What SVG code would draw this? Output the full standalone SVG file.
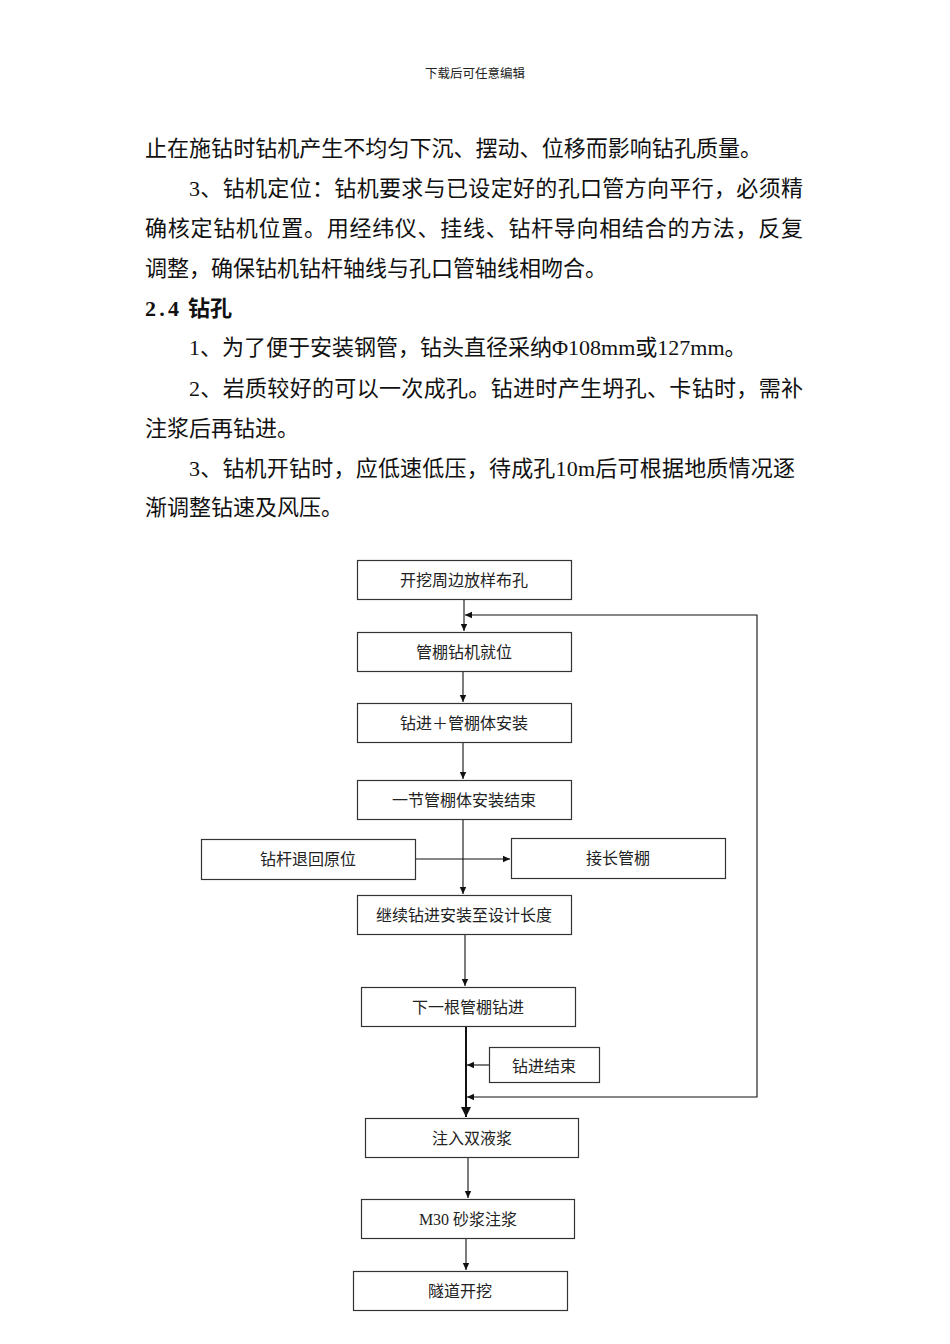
<svg xmlns="http://www.w3.org/2000/svg" width="950" height="1344" viewBox="0 0 950 1344">
<style>
.body{font-family:"Liberation Serif","Noto Sans CJK SC",serif;font-size:22px;fill:#111}
.hd{font-family:"Liberation Serif","Noto Sans CJK SC",serif;font-size:12.5px;fill:#222}
.h2{font-family:"Liberation Serif","Noto Sans CJK SC",serif;font-size:22px;font-weight:bold;fill:#111}
.box{fill:#fff;stroke:#333;stroke-width:1.2}
.lbl{font-family:"Liberation Serif","Noto Sans CJK SC",serif;font-size:16px;fill:#222;text-anchor:middle;dominant-baseline:central}
.ln{fill:none;stroke:#111;stroke-width:1.1}
</style>
<defs>
<marker id="ar" markerWidth="8" markerHeight="8" refX="7" refY="4" orient="auto-start-reverse" markerUnits="userSpaceOnUse"><path d="M0,0.8 L7,4 L0,7.2 z" fill="#111"/></marker>
<marker id="arb" markerWidth="12" markerHeight="12" refX="10" refY="6" orient="auto" markerUnits="userSpaceOnUse"><path d="M0,1 L10,6 L0,11 z" fill="#111"/></marker>
</defs>
<rect width="950" height="1344" fill="#fff"/>
<text class="hd" x="475" y="78" text-anchor="middle">下载后可任意编辑</text>
<text class="body" x="145" y="156" textLength="617" lengthAdjust="spacing">止在施钻时钻机产生不均匀下沉、摆动、位移而影响钻孔质量。</text>
<text class="body" x="189" y="196" textLength="614" lengthAdjust="spacing">3、钻机定位：钻机要求与已设定好的孔口管方向平行，必须精</text>
<text class="body" x="145" y="236" textLength="658" lengthAdjust="spacing">确核定钻机位置。用经纬仪、挂线、钻杆导向相结合的方法，反复</text>
<text class="body" x="145" y="276">调整，确保钻机钻杆轴线与孔口管轴线相吻合。</text>
<text class="h2" x="145" y="316"><tspan textLength="34" lengthAdjust="spacing">2.4</tspan><tspan x="188">钻孔</tspan></text>
<text class="body" x="189" y="355">1、为了便于安装钢管，钻头直径采纳Φ108mm或127mm。</text>
<text class="body" x="189" y="396" textLength="614" lengthAdjust="spacing">2、岩质较好的可以一次成孔。钻进时产生坍孔、卡钻时，需补</text>
<text class="body" x="145" y="436">注浆后再钻进。</text>
<text class="body" x="189" y="476" textLength="606" lengthAdjust="spacing">3、钻机开钻时，应低速低压，待成孔10m后可根据地质情况逐</text>
<text class="body" x="145" y="515">渐调整钻速及风压。</text>

<g id="connectors">
<path class="ln" d="M464,599 V631" marker-end="url(#ar)"/>
<path class="ln" d="M463,671 V702" marker-end="url(#ar)"/>
<path class="ln" d="M463,742 V779" marker-end="url(#ar)"/>
<path class="ln" d="M463,819 V894" marker-end="url(#ar)"/>
<path class="ln" d="M415,859 H510" marker-end="url(#ar)"/>
<path class="ln" d="M465,934 V986" marker-end="url(#ar)"/>
<path fill="none" stroke="#111" stroke-width="2" d="M466,1026 V1117" marker-end="url(#arb)"/>
<path class="ln" d="M489,1065 H467" marker-end="url(#ar)"/>
<path class="ln" d="M467,1097 H757 V615 H465" marker-start="url(#ar)" marker-end="url(#ar)"/>
<path class="ln" d="M468,1157 V1198" marker-end="url(#ar)"/>
<path class="ln" d="M466,1238 V1270" marker-end="url(#ar)"/>
</g>

<g id="n1"><rect class="box" x="357.5" y="560.5" width="214" height="39"/><text class="lbl" x="464" y="580">开挖周边放样布孔</text></g>
<g id="n2"><rect class="box" x="357.5" y="632.5" width="214" height="39"/><text class="lbl" x="464" y="652">管棚钻机就位</text></g>
<g id="n3"><rect class="box" x="357.5" y="703.5" width="214" height="39"/><text class="lbl" x="464" y="723">钻进＋管棚体安装</text></g>
<g id="n4"><rect class="box" x="357.5" y="780.5" width="214" height="39"/><text class="lbl" x="464" y="800">一节管棚体安装结束</text></g>
<g id="n5"><rect class="box" x="201.5" y="839.5" width="214" height="40"/><text class="lbl" x="308" y="859">钻杆退回原位</text></g>
<g id="n6"><rect class="box" x="511.5" y="838.5" width="214" height="40"/><text class="lbl" x="618" y="858">接长管棚</text></g>
<g id="n7"><rect class="box" x="357.5" y="895.5" width="214" height="39"/><text class="lbl" x="464" y="915">继续钻进安装至设计长度</text></g>
<g id="n8"><rect class="box" x="361.5" y="987.5" width="214" height="39"/><text class="lbl" x="468" y="1007">下一根管棚钻进</text></g>
<g id="n9"><rect class="box" x="489.5" y="1047.5" width="110" height="35"/><text class="lbl" x="544" y="1066">钻进结束</text></g>
<g id="n10"><rect class="box" x="365.5" y="1118.5" width="213" height="39"/><text class="lbl" x="472" y="1138">注入双液浆</text></g>
<g id="n11"><rect class="box" x="361.5" y="1199.5" width="213" height="39"/><text class="lbl" x="468" y="1219">M30 砂浆注浆</text></g>
<g id="n12"><rect class="box" x="353.5" y="1271.5" width="214" height="39"/><text class="lbl" x="460" y="1291">隧道开挖</text></g>
</svg>
